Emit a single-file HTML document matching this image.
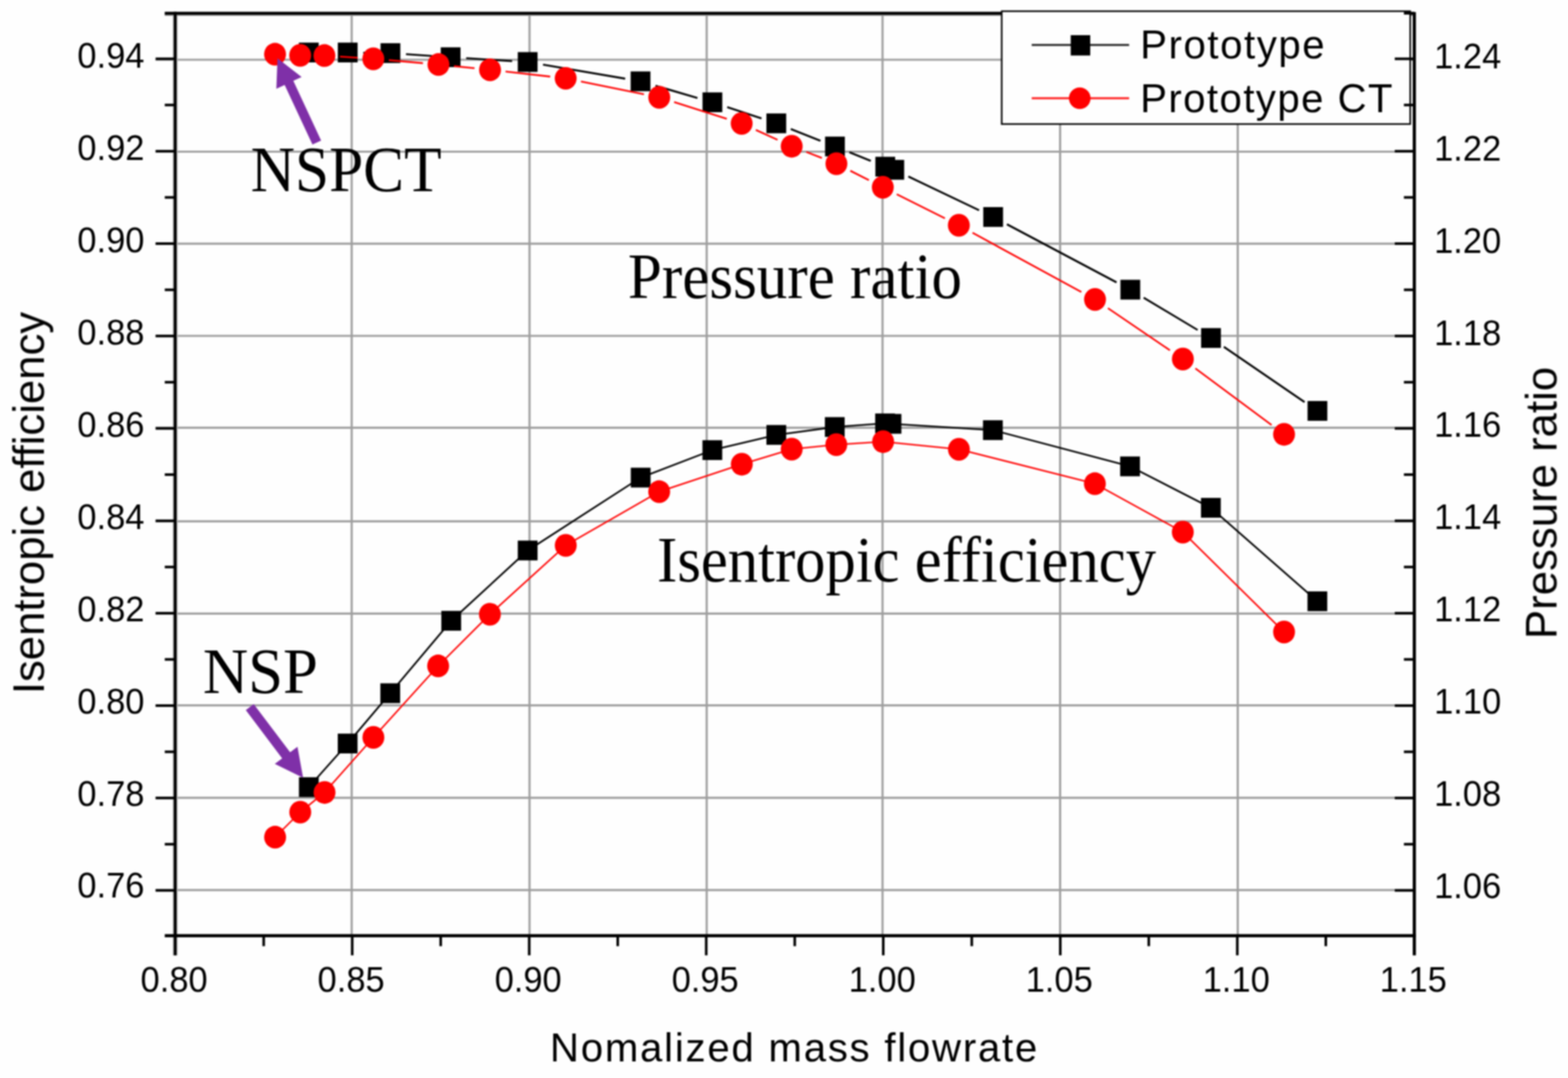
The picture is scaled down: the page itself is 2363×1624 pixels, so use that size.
<!DOCTYPE html>
<html lang="en"><head><meta charset="utf-8"><title>Isentropic efficiency and pressure ratio</title>
<style>html,body{margin:0;padding:0;background:#fefefe}svg{display:block}.s{font-family:"Liberation Sans",Arial,Helvetica,sans-serif;fill:#000}.t{font-family:"Liberation Serif","Times New Roman",Times,serif;fill:#000}</style></head><body>
<svg width="2363" height="1624" viewBox="0 0 2363 1624">
<defs><filter id="soft" filterUnits="userSpaceOnUse" x="0" y="0" width="2363" height="1624" color-interpolation-filters="sRGB"><feGaussianBlur stdDeviation="0.8"/></filter></defs>
<rect x="0" y="0" width="2363" height="1624" fill="#fefefe"/>
<g filter="url(#soft)">
<g id="grid">
<line x1="234.5" y1="90" x2="2131.4" y2="90" stroke="#9e9e9e" stroke-width="3.2"/>
<line x1="234.5" y1="228.5" x2="2131.4" y2="228.5" stroke="#9e9e9e" stroke-width="3.2"/>
<line x1="234.5" y1="367.1" x2="2131.4" y2="367.1" stroke="#9e9e9e" stroke-width="3.2"/>
<line x1="234.5" y1="506" x2="2131.4" y2="506" stroke="#9e9e9e" stroke-width="3.2"/>
<line x1="234.5" y1="644.3" x2="2131.4" y2="644.3" stroke="#9e9e9e" stroke-width="3.2"/>
<line x1="234.5" y1="785.4" x2="2131.4" y2="785.4" stroke="#9e9e9e" stroke-width="3.2"/>
<line x1="234.5" y1="924.3" x2="2131.4" y2="924.3" stroke="#9e9e9e" stroke-width="3.2"/>
<line x1="234.5" y1="1062.6" x2="2131.4" y2="1062.6" stroke="#9e9e9e" stroke-width="3.2"/>
<line x1="234.5" y1="1201.8" x2="2131.4" y2="1201.8" stroke="#9e9e9e" stroke-width="3.2"/>
<line x1="234.5" y1="1340.8" x2="2131.4" y2="1340.8" stroke="#9e9e9e" stroke-width="3.2"/>
<line x1="530" y1="20" x2="530" y2="1409.7" stroke="#9e9e9e" stroke-width="3.2"/>
<line x1="798" y1="20" x2="798" y2="1409.7" stroke="#9e9e9e" stroke-width="3.2"/>
<line x1="1065" y1="20" x2="1065" y2="1409.7" stroke="#9e9e9e" stroke-width="3.2"/>
<line x1="1330" y1="20" x2="1330" y2="1409.7" stroke="#9e9e9e" stroke-width="3.2"/>
<line x1="1597.6" y1="20" x2="1597.6" y2="1409.7" stroke="#9e9e9e" stroke-width="3.2"/>
<line x1="1865.3" y1="20" x2="1865.3" y2="1409.7" stroke="#9e9e9e" stroke-width="3.2"/>
<line x1="264" y1="20" x2="264" y2="1439.2" stroke="#bdbdbd" stroke-width="7.6"/>
<line x1="248.3" y1="21.6" x2="2131.4" y2="21.6" stroke="#9c9c9c" stroke-width="4.6"/>
</g>
<g id="pressure-ratio">
<path d="M488.9 79.1L500.5 79.1M547.5 79.43L564.9 79.67M611.85 81.6L655.65 84.6M702.55 87.65L771.75 91.95M818.36 97.36L942.14 118.54M987.86 129.08L1051.04 147.52M1095.92 161.45L1147.58 178.45M1191.76 194.43L1236.44 212.07M1280.11 229.45L1312.29 242.35M1368.91 265.92L1475.49 316.78M1517.47 337.9L1682.63 425.4M1723.56 448.47L1804.84 497.13M1844.39 522.47L1966.01 605.73" fill="none" stroke="#000" stroke-width="2.9"/>
<rect x="450.5" y="64.2" width="29.8" height="29.8" fill="#000"/>
<rect x="509.1" y="64.2" width="29.8" height="29.8" fill="#000"/>
<rect x="573.5" y="65.1" width="29.8" height="29.8" fill="#000"/>
<rect x="664.2" y="71.3" width="29.8" height="29.8" fill="#000"/>
<rect x="780.3" y="78.5" width="29.8" height="29.8" fill="#000"/>
<rect x="950.4" y="107.6" width="29.8" height="29.8" fill="#000"/>
<rect x="1058.7" y="139.2" width="29.8" height="29.8" fill="#000"/>
<rect x="1155" y="170.9" width="29.8" height="29.8" fill="#000"/>
<rect x="1243.4" y="205.8" width="29.8" height="29.8" fill="#000"/>
<rect x="1319.2" y="236.2" width="29.8" height="29.8" fill="#000"/>
<rect x="1332.8" y="240.9" width="29.8" height="29.8" fill="#000"/>
<rect x="1481.8" y="312" width="29.8" height="29.8" fill="#000"/>
<rect x="1688.5" y="421.5" width="29.8" height="29.8" fill="#000"/>
<rect x="1810.1" y="494.3" width="29.8" height="29.8" fill="#000"/>
<rect x="1970.5" y="604.1" width="29.8" height="29.8" fill="#000"/>
<path d="M512.35 85.26L539.15 87.04M586.01 90.65L637.39 95.15M684.18 99.61L715.12 102.79M761.85 107.82L829.15 115.38M875.53 122.67L970.47 141.93M1015.9 153.71L1095.3 178.89M1139.09 195.73L1171.71 210.57M1214.99 228.84L1238.61 238.06M1281.45 257.24L1309.45 271.46M1351.42 292.61L1423.98 328.89M1465.64 350.64L1629.56 439.86M1669.65 464.29L1763.15 527.71M1801.46 554.92L1916.24 640.28" fill="none" stroke="#ff0000" stroke-width="2.6"/>
<ellipse cx="414.5" cy="81.7" rx="16.5" ry="17.1" fill="#ff0000"/>
<ellipse cx="452.4" cy="83.4" rx="16.5" ry="17.1" fill="#ff0000"/>
<ellipse cx="488.9" cy="83.7" rx="16.5" ry="17.1" fill="#ff0000"/>
<ellipse cx="562.6" cy="88.6" rx="16.5" ry="17.1" fill="#ff0000"/>
<ellipse cx="660.8" cy="97.2" rx="16.5" ry="17.1" fill="#ff0000"/>
<ellipse cx="738.5" cy="105.2" rx="16.5" ry="17.1" fill="#ff0000"/>
<ellipse cx="852.5" cy="118" rx="16.5" ry="17.1" fill="#ff0000"/>
<ellipse cx="993.5" cy="146.6" rx="16.5" ry="17.1" fill="#ff0000"/>
<ellipse cx="1117.7" cy="186" rx="16.5" ry="17.1" fill="#ff0000"/>
<ellipse cx="1193.1" cy="220.3" rx="16.5" ry="17.1" fill="#ff0000"/>
<ellipse cx="1260.5" cy="246.6" rx="16.5" ry="17.1" fill="#ff0000"/>
<ellipse cx="1330.4" cy="282.1" rx="16.5" ry="17.1" fill="#ff0000"/>
<ellipse cx="1445" cy="339.4" rx="16.5" ry="17.1" fill="#ff0000"/>
<ellipse cx="1650.2" cy="451.1" rx="16.5" ry="17.1" fill="#ff0000"/>
<ellipse cx="1782.6" cy="540.9" rx="16.5" ry="17.1" fill="#ff0000"/>
<ellipse cx="1935.1" cy="654.3" rx="16.5" ry="17.1" fill="#ff0000"/>
</g>
<g id="efficiency">
<polyline points="465.4,1185.8 523.9,1120.1 588.1,1044.3 680,935.2 795.2,829.3 965.5,719.5 1073.5,678.1 1169.9,655.2 1258,643.3 1333.8,637.8 1343.5,638.5 1496.3,648 1703,702.6 1824.8,765 1985.3,905.8" fill="none" stroke="#000" stroke-width="2.6" stroke-linejoin="round"/>
<rect x="450.5" y="1170.9" width="29.8" height="29.8" fill="#000"/>
<rect x="509" y="1105.2" width="29.8" height="29.8" fill="#000"/>
<rect x="573.2" y="1029.4" width="29.8" height="29.8" fill="#000"/>
<rect x="665.1" y="920.3" width="29.8" height="29.8" fill="#000"/>
<rect x="780.3" y="814.4" width="29.8" height="29.8" fill="#000"/>
<rect x="950.6" y="704.6" width="29.8" height="29.8" fill="#000"/>
<rect x="1058.6" y="663.2" width="29.8" height="29.8" fill="#000"/>
<rect x="1155" y="640.3" width="29.8" height="29.8" fill="#000"/>
<rect x="1243.1" y="628.4" width="29.8" height="29.8" fill="#000"/>
<rect x="1318.9" y="622.9" width="29.8" height="29.8" fill="#000"/>
<rect x="1328.6" y="623.6" width="29.8" height="29.8" fill="#000"/>
<rect x="1481.4" y="633.1" width="29.8" height="29.8" fill="#000"/>
<rect x="1688.1" y="687.7" width="29.8" height="29.8" fill="#000"/>
<rect x="1809.9" y="750.1" width="29.8" height="29.8" fill="#000"/>
<rect x="1970.4" y="890.9" width="29.8" height="29.8" fill="#000"/>
<polyline points="414.6,1261.2 452.5,1223.5 489.1,1193.8 562.7,1110.9 660.3,1003.2 738.3,925.4 852.6,821.6 993.4,740.7 1117.9,699.3 1193.1,676.6 1260.3,669.9 1330.9,665.3 1445.1,676.9 1650,728.7 1782.5,801.6 1935.1,952.1" fill="none" stroke="#ff0000" stroke-width="2.3" stroke-linejoin="round"/>
<ellipse cx="414.6" cy="1261.2" rx="16.5" ry="17.1" fill="#ff0000"/>
<ellipse cx="452.5" cy="1223.5" rx="16.5" ry="17.1" fill="#ff0000"/>
<ellipse cx="489.1" cy="1193.8" rx="16.5" ry="17.1" fill="#ff0000"/>
<ellipse cx="562.7" cy="1110.9" rx="16.5" ry="17.1" fill="#ff0000"/>
<ellipse cx="660.3" cy="1003.2" rx="16.5" ry="17.1" fill="#ff0000"/>
<ellipse cx="738.3" cy="925.4" rx="16.5" ry="17.1" fill="#ff0000"/>
<ellipse cx="852.6" cy="821.6" rx="16.5" ry="17.1" fill="#ff0000"/>
<ellipse cx="993.4" cy="740.7" rx="16.5" ry="17.1" fill="#ff0000"/>
<ellipse cx="1117.9" cy="699.3" rx="16.5" ry="17.1" fill="#ff0000"/>
<ellipse cx="1193.1" cy="676.6" rx="16.5" ry="17.1" fill="#ff0000"/>
<ellipse cx="1260.3" cy="669.9" rx="16.5" ry="17.1" fill="#ff0000"/>
<ellipse cx="1330.9" cy="665.3" rx="16.5" ry="17.1" fill="#ff0000"/>
<ellipse cx="1445.1" cy="676.9" rx="16.5" ry="17.1" fill="#ff0000"/>
<ellipse cx="1650" cy="728.7" rx="16.5" ry="17.1" fill="#ff0000"/>
<ellipse cx="1782.5" cy="801.6" rx="16.5" ry="17.1" fill="#ff0000"/>
<ellipse cx="1935.1" cy="952.1" rx="16.5" ry="17.1" fill="#ff0000"/>
</g>
<g id="axes" stroke-linecap="butt">
<line x1="264" y1="17.85" x2="264" y2="1439.2" stroke="#000" stroke-width="4.3"/>
<line x1="248.3" y1="20" x2="2131.4" y2="20" stroke="#000" stroke-width="4.3"/>
<line x1="248.3" y1="1409.7" x2="2133.55" y2="1409.7" stroke="#000" stroke-width="4.7"/>
<line x1="234.5" y1="88.6" x2="264" y2="88.6" stroke="#000" stroke-width="3.9"/>
<line x1="248.3" y1="158.2" x2="264" y2="158.2" stroke="#000" stroke-width="3.9"/>
<line x1="234.5" y1="227.8" x2="264" y2="227.8" stroke="#000" stroke-width="3.9"/>
<line x1="248.3" y1="297.4" x2="264" y2="297.4" stroke="#000" stroke-width="3.9"/>
<line x1="234.5" y1="367" x2="264" y2="367" stroke="#000" stroke-width="3.9"/>
<line x1="248.3" y1="436.6" x2="264" y2="436.6" stroke="#000" stroke-width="3.9"/>
<line x1="234.5" y1="506.2" x2="264" y2="506.2" stroke="#000" stroke-width="3.9"/>
<line x1="248.3" y1="575.8" x2="264" y2="575.8" stroke="#000" stroke-width="3.9"/>
<line x1="234.5" y1="645.4" x2="264" y2="645.4" stroke="#000" stroke-width="3.9"/>
<line x1="248.3" y1="715" x2="264" y2="715" stroke="#000" stroke-width="3.9"/>
<line x1="234.5" y1="784.6" x2="264" y2="784.6" stroke="#000" stroke-width="3.9"/>
<line x1="248.3" y1="854.2" x2="264" y2="854.2" stroke="#000" stroke-width="3.9"/>
<line x1="234.5" y1="923.8" x2="264" y2="923.8" stroke="#000" stroke-width="3.9"/>
<line x1="248.3" y1="993.4" x2="264" y2="993.4" stroke="#000" stroke-width="3.9"/>
<line x1="234.5" y1="1063" x2="264" y2="1063" stroke="#000" stroke-width="3.9"/>
<line x1="248.3" y1="1132.6" x2="264" y2="1132.6" stroke="#000" stroke-width="3.9"/>
<line x1="234.5" y1="1202.2" x2="264" y2="1202.2" stroke="#000" stroke-width="3.9"/>
<line x1="248.3" y1="1271.8" x2="264" y2="1271.8" stroke="#000" stroke-width="3.9"/>
<line x1="234.5" y1="1341.4" x2="264" y2="1341.4" stroke="#000" stroke-width="3.9"/>
<line x1="530.77" y1="1409.7" x2="530.77" y2="1439.2" stroke="#000" stroke-width="3.9"/>
<line x1="797.54" y1="1409.7" x2="797.54" y2="1439.2" stroke="#000" stroke-width="3.9"/>
<line x1="1064.31" y1="1409.7" x2="1064.31" y2="1439.2" stroke="#000" stroke-width="3.9"/>
<line x1="1331.09" y1="1409.7" x2="1331.09" y2="1439.2" stroke="#000" stroke-width="3.9"/>
<line x1="1597.86" y1="1409.7" x2="1597.86" y2="1439.2" stroke="#000" stroke-width="3.9"/>
<line x1="1864.63" y1="1409.7" x2="1864.63" y2="1439.2" stroke="#000" stroke-width="3.9"/>
<line x1="397.39" y1="1409.7" x2="397.39" y2="1425.4" stroke="#000" stroke-width="3.9"/>
<line x1="664.16" y1="1409.7" x2="664.16" y2="1425.4" stroke="#000" stroke-width="3.9"/>
<line x1="930.93" y1="1409.7" x2="930.93" y2="1425.4" stroke="#000" stroke-width="3.9"/>
<line x1="1197.7" y1="1409.7" x2="1197.7" y2="1425.4" stroke="#000" stroke-width="3.9"/>
<line x1="1464.47" y1="1409.7" x2="1464.47" y2="1425.4" stroke="#000" stroke-width="3.9"/>
<line x1="1731.24" y1="1409.7" x2="1731.24" y2="1425.4" stroke="#000" stroke-width="3.9"/>
<line x1="1998.01" y1="1409.7" x2="1998.01" y2="1425.4" stroke="#000" stroke-width="3.9"/>
</g>
<g id="legend">
<rect x="1509.6" y="16.9" width="615.6" height="170" fill="#fefefe" stroke="#000" stroke-width="2.4"/>
<line x1="1554.8" y1="67.8" x2="1701.6" y2="67.8" stroke="#262626" stroke-width="3"/>
<rect x="1613.6" y="53" width="29.4" height="30.6" fill="#000"/>
<line x1="1554.8" y1="148" x2="1701.6" y2="148" stroke="#ff1a1a" stroke-width="3"/>
<circle cx="1627.2" cy="148" r="16.3" fill="#ff0000"/>
<text class="s" transform="translate(1718.15 88.3) scale(1.0000 1)" font-size="60.6" letter-spacing="2.35">Prototype</text>
<text class="s" transform="translate(1718.15 168.8) scale(1.0000 1)" font-size="60.6" letter-spacing="2.13">Prototype CT</text>
</g>
<g id="right-axis">
<line x1="2131.4" y1="18.35" x2="2131.4" y2="1439.2" stroke="#000" stroke-width="4.8"/>
<line x1="2101.9" y1="88.6" x2="2131.4" y2="88.6" stroke="#000" stroke-width="3.9"/>
<line x1="2101.9" y1="227.8" x2="2131.4" y2="227.8" stroke="#000" stroke-width="3.9"/>
<line x1="2101.9" y1="367" x2="2131.4" y2="367" stroke="#000" stroke-width="3.9"/>
<line x1="2101.9" y1="506.2" x2="2131.4" y2="506.2" stroke="#000" stroke-width="3.9"/>
<line x1="2101.9" y1="645.4" x2="2131.4" y2="645.4" stroke="#000" stroke-width="3.9"/>
<line x1="2101.9" y1="784.6" x2="2131.4" y2="784.6" stroke="#000" stroke-width="3.9"/>
<line x1="2101.9" y1="923.8" x2="2131.4" y2="923.8" stroke="#000" stroke-width="3.9"/>
<line x1="2101.9" y1="1063" x2="2131.4" y2="1063" stroke="#000" stroke-width="3.9"/>
<line x1="2101.9" y1="1202.2" x2="2131.4" y2="1202.2" stroke="#000" stroke-width="3.9"/>
<line x1="2101.9" y1="1341.4" x2="2131.4" y2="1341.4" stroke="#000" stroke-width="3.9"/>
<line x1="2115.7" y1="20" x2="2131.4" y2="20" stroke="#000" stroke-width="3.9"/>
<line x1="2115.7" y1="158.2" x2="2131.4" y2="158.2" stroke="#000" stroke-width="3.9"/>
<line x1="2115.7" y1="297.4" x2="2131.4" y2="297.4" stroke="#000" stroke-width="3.9"/>
<line x1="2115.7" y1="436.6" x2="2131.4" y2="436.6" stroke="#000" stroke-width="3.9"/>
<line x1="2115.7" y1="575.8" x2="2131.4" y2="575.8" stroke="#000" stroke-width="3.9"/>
<line x1="2115.7" y1="715" x2="2131.4" y2="715" stroke="#000" stroke-width="3.9"/>
<line x1="2115.7" y1="854.2" x2="2131.4" y2="854.2" stroke="#000" stroke-width="3.9"/>
<line x1="2115.7" y1="993.4" x2="2131.4" y2="993.4" stroke="#000" stroke-width="3.9"/>
<line x1="2115.7" y1="1132.6" x2="2131.4" y2="1132.6" stroke="#000" stroke-width="3.9"/>
<line x1="2115.7" y1="1271.8" x2="2131.4" y2="1271.8" stroke="#000" stroke-width="3.9"/>
</g>
<g id="tick-labels" class="s" font-size="54.3">
<text transform="translate(217.7 102.3) scale(0.957 1)" text-anchor="end">0.94</text>
<text transform="translate(217.7 241.2) scale(0.957 1)" text-anchor="end">0.92</text>
<text transform="translate(217.7 380.1) scale(0.957 1)" text-anchor="end">0.90</text>
<text transform="translate(217.7 519) scale(0.957 1)" text-anchor="end">0.88</text>
<text transform="translate(217.7 657.9) scale(0.957 1)" text-anchor="end">0.86</text>
<text transform="translate(217.7 796.8) scale(0.957 1)" text-anchor="end">0.84</text>
<text transform="translate(217.7 935.7) scale(0.957 1)" text-anchor="end">0.82</text>
<text transform="translate(217.7 1074.6) scale(0.957 1)" text-anchor="end">0.80</text>
<text transform="translate(217.7 1213.5) scale(0.957 1)" text-anchor="end">0.78</text>
<text transform="translate(217.7 1352.4) scale(0.957 1)" text-anchor="end">0.76</text>
<text transform="translate(2161.2 102.8) scale(0.957 1)">1.24</text>
<text transform="translate(2161.2 241.7) scale(0.957 1)">1.22</text>
<text transform="translate(2161.2 380.6) scale(0.957 1)">1.20</text>
<text transform="translate(2161.2 519.5) scale(0.957 1)">1.18</text>
<text transform="translate(2161.2 658.4) scale(0.957 1)">1.16</text>
<text transform="translate(2161.2 797.3) scale(0.957 1)">1.14</text>
<text transform="translate(2161.2 936.2) scale(0.957 1)">1.12</text>
<text transform="translate(2161.2 1075.1) scale(0.957 1)">1.10</text>
<text transform="translate(2161.2 1214) scale(0.957 1)">1.08</text>
<text transform="translate(2161.2 1352.9) scale(0.957 1)">1.06</text>
<text transform="translate(262.4 1494.4) scale(0.957 1)" text-anchor="middle">0.80</text>
<text transform="translate(529.17 1494.4) scale(0.957 1)" text-anchor="middle">0.85</text>
<text transform="translate(795.94 1494.4) scale(0.957 1)" text-anchor="middle">0.90</text>
<text transform="translate(1062.71 1494.4) scale(0.957 1)" text-anchor="middle">0.95</text>
<text transform="translate(1329.49 1494.4) scale(0.957 1)" text-anchor="middle">1.00</text>
<text transform="translate(1596.26 1494.4) scale(0.957 1)" text-anchor="middle">1.05</text>
<text transform="translate(1863.03 1494.4) scale(0.957 1)" text-anchor="middle">1.10</text>
<text transform="translate(2129.8 1494.4) scale(0.957 1)" text-anchor="middle">1.15</text>
</g>
<g id="titles">
<text class="s" transform="translate(828.75 1599.3) scale(1.0000 1)" font-size="60.6" letter-spacing="2.62">Nomalized mass flowrate</text>
<text class="s" transform="translate(66.2 1045.71) rotate(-90) scale(0.9898 1)" font-size="66.4">Isentropic efficiency</text>
<text class="s" transform="translate(2345.7 962.77) rotate(-90) scale(0.9894 1)" font-size="66.6">Pressure ratio</text>
</g>
<g id="annotations">
<text class="t" transform="translate(377.73 287.8) scale(0.9505 1)" font-size="97.24">NSPCT</text>
<text class="t" transform="translate(305.76 1044.3) scale(0.9755 1)" font-size="96.93">NSP</text>
<text class="t" transform="translate(946.34 448.5) scale(0.9479 1)" font-size="97.09">Pressure ratio</text>
<text class="t" transform="translate(990.3 875.8) scale(0.9458 1)" font-size="96.63">Isentropic efficiency</text>
<polygon points="483.93,211.76 442.04,121.83 454.55,116 418.2,87.7 416.47,133.73 428.98,127.91 470.87,217.84" fill="#7f30a8"/>
<polygon points="370.41,1069.72 425.22,1142.39 414.12,1150.75 456.8,1171.8 448.29,1124.98 437.2,1133.35 382.39,1060.68" fill="#7f30a8"/>
</g>
</g>
</svg></body></html>
